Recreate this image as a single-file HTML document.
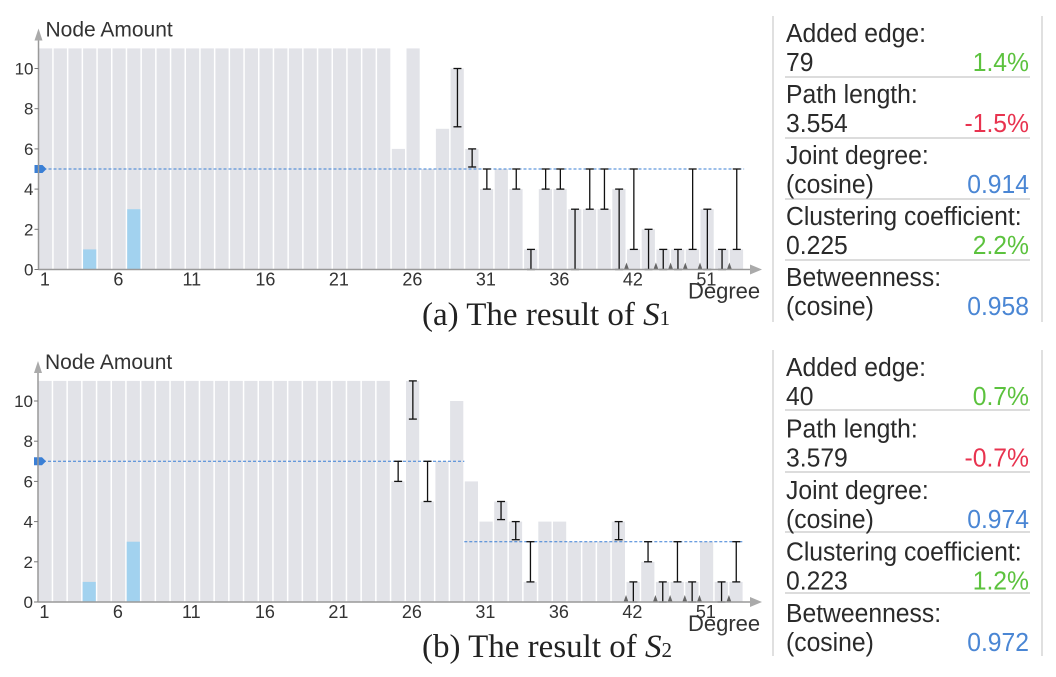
<!DOCTYPE html>
<html><head><meta charset="utf-8">
<style>
html,body{margin:0;padding:0;background:#fff;}
svg{display:block;}
text{font-family:"Liberation Sans",sans-serif;}
.cap{font-family:"Liberation Serif",serif;}
</style></head>
<body>
<svg id="root" width="1056" height="677" viewBox="0 0 1056 677">
  <g id="chartA"></g>
  <g id="chartB"></g>
  <text class="cap" x="422" y="325" font-size="33" fill="#222">(a) The result of <tspan font-style="italic">S</tspan><tspan font-size="21">1</tspan></text>
  <text class="cap" x="422" y="657" font-size="33" fill="#222">(b) The result of <tspan font-style="italic">S</tspan><tspan font-size="21">2</tspan></text>
  <g id="panelA"></g>
  <g id="panelB"></g>
</svg>
<script>
// ---- data ----
const categories = ["1","6","11","16","21","26","31","36","42","51"];
const yTicks = [0,2,4,6,8,10];
const values = [11,11,11,11,11,11,11,11,11,11,11,11,11,11,11,11,11,11,11,11,11,11,11,
  11,6,11,5,7,10,6,4,5,4,1,4,4,3,3,3,4,1,2,1,1,1,3,1,1];
const blueIdx = [3,6];
const blueVals = [1,3];
const whiskIdxA = [28,29,30,32,33,34,35,36,37,38,39,40,41,42,43,44,45,46,47];
const whiskFromA = [10,6,5,5,1,5,5,3,5,5,4,5,2,1,1,5,3,1,5];
const whiskToA = [7.1,5.1,4,4,0,4,4,0,3,3,0,1,0,0,0,1,0,0,1];
const whiskIdxB = [24,25,26,31,32,33,39,40,41,42,43,44,46,47];
const whiskFromB = [7,11,7,5,4,3,4,1,3,1,3,1,1,3];
const whiskToB = [6,9.1,5,4.1,3.1,1,3.1,0,2,0,1,0,0,1];
const skipIdx = [40,42,43,44,45,47];
const targetStartA = [0]; const targetEndA = [48]; const targetValA = [5];
const targetStartB = [0,29]; const targetEndB = [29,48]; const targetValB = [7,3];
const labelsMetric = ["Added edge:","Path length:","Joint degree:","Clustering coefficient:","Betweenness:"];
const leftA = ["79","3.554","(cosine)","0.225","(cosine)"];
const rightA = ["1.4%","-1.5%","0.914","2.2%","0.958"];
const leftB = ["40","3.579","(cosine)","0.223","(cosine)"];
const rightB = ["0.7%","-0.7%","0.974","1.2%","0.972"];
const colorsMetric = ["#5cc23e","#e8334f","#4a86d4","#5cc23e","#4a86d4"];

const NS="http://www.w3.org/2000/svg";
function mk(tag, attrs, parent){const e=document.createElementNS(NS,tag);for(const k in attrs)e.setAttribute(k,attrs[k]);parent.appendChild(e);return e;}

function drawChart(g, base, x0, wIdx, wFrom, wTo, tS, tE, tV){
  const bw=14.7, unit=20.1;
  const xs=i=>x0+i*bw, ys=v=>base-v*unit;
  values.forEach((v,i)=>{
    const r=mk('rect',{x:xs(i)+0.5,y:ys(v),width:bw-1.5,height:v*unit,fill:'#e2e3e8'},g);
    
    
  });
  blueIdx.forEach((i,k)=>{
    const r=mk('rect',{x:xs(i)+0.5,y:ys(blueVals[k]),width:bw-1.5,height:blueVals[k]*unit,fill:'#a2d2ef'},g);
    
    
  });
  tS.forEach((s,k)=>{
    const l=mk('line',{x1:xs(s),x2:xs(tE[k]),y1:ys(tV[k]),y2:ys(tV[k]),stroke:'#3a7fd5','stroke-width':1,'stroke-dasharray':'3,2'},g);
    
    
  });
  const mv=tV[0];
  const mkr=mk('path',{d:`M${x0-4},${ys(mv)-4} h8 l4,4 l-4,4 h-8 z`,fill:'#3a7fd5'},g);
  
  
  wIdx.forEach((i,k)=>{
    const cx=xs(i)+bw/2, y1=ys(wFrom[k]), y2=ys(wTo[k]);
    const w=mk('g',{stroke:'#111','stroke-width':1.3},g);
    
    
    mk('line',{x1:cx,x2:cx,y1:y1,y2:y2},w);
    mk('line',{x1:cx-4,x2:cx+4,y1:y1,y2:y1},w);
    mk('line',{x1:cx-4,x2:cx+4,y1:y2,y2:y2},w);
  });
  skipIdx.forEach(i=>{
    const x=xs(i);
    const t=mk('path',{d:`M${x-2.5},${base} L${x},${base-7} L${x+2.5},${base} z`,fill:'#666'},g);
    
    
  });
  const ax=mk('g',{},g);
  
  
  mk('line',{x1:x0,x2:752,y1:base,y2:base,stroke:'#999','stroke-width':1.5},ax);
  mk('path',{d:`M750,${base-5} L762,${base} L750,${base+5} z`,fill:'#aaa'},ax);
  mk('line',{x1:x0,x2:x0,y1:base,y2:base-232,stroke:'#999','stroke-width':1.5},ax);
  mk('path',{d:`M${x0-4},${base-229} L${x0},${base-241} L${x0+4},${base-229} z`,fill:'#aaa'},ax);
  const yt=mk('text',{x:x0+7,y:base-233,'font-size':21,fill:'#333'},g);
  yt.textContent='Node Amount';
  
  
  yTicks.forEach(v=>{
    mk('line',{x1:x0-4,x2:x0,y1:ys(v),y2:ys(v),stroke:'#777','stroke-width':1},g);
    const t=mk('text',{x:x0-5,y:ys(v)+6,'font-size':17,fill:'#333','text-anchor':'end'},g);
    t.textContent=v;
    
    
  });
  categories.forEach((c,k)=>{
    const i=k*5;
    const t=mk('text',{x:xs(i)+bw/2-1,y:base+16,'font-size':18,fill:'#333','text-anchor':'middle'},g);
    t.textContent=c;
    
    
  });
  const xt=mk('text',{x:688,y:base+29,'font-size':22,fill:'#333'},g);
  xt.textContent='Degree';
  
  
}
drawChart(document.getElementById('chartA'),269.5,38.5,whiskIdxA,whiskFromA,whiskToA,targetStartA,targetEndA,targetValA);
drawChart(document.getElementById('chartB'),602,38,whiskIdxB,whiskFromB,whiskToB,targetStartB,targetEndB,targetValB);

function drawPanel(g, top, bottom, seps, firstBase, pitch, left, right){
  mk('line',{x1:773,x2:773,y1:top,y2:bottom,stroke:'#ccc','stroke-width':1.2},g);
  mk('line',{x1:1042,x2:1042,y1:top,y2:bottom,stroke:'#ccc','stroke-width':1.2},g);
  seps.forEach(y=>mk('line',{x1:785,x2:1030,y1:y,y2:y,stroke:'#c8c8c8','stroke-width':1.2},g));
  const sx=0.95;
  const tg=mk('g',{transform:`translate(786,0) scale(${sx},1)`},g);
  labelsMetric.forEach((lab,k)=>{
    const b=firstBase+k*pitch;
    const row=mk('g',{},tg);
    
    
    const a=mk('text',{x:0,y:b,'font-size':26,fill:'#2a2a2a'},row);a.textContent=lab;
    const c=mk('text',{x:0,y:b+29,'font-size':26,fill:'#2a2a2a'},row);c.textContent=left[k];
    const d=mk('text',{x:(1029-786)/sx,y:b+29,'font-size':26,fill:colorsMetric[k],'text-anchor':'end'},row);d.textContent=right[k];
  });
}
drawPanel(document.getElementById('panelA'),16,322,[77,138,199,260],42,61,leftA,rightA);
drawPanel(document.getElementById('panelB'),350,656,[410,472,532,593],376,61.5,leftB,rightB);
</script>
</body></html>
